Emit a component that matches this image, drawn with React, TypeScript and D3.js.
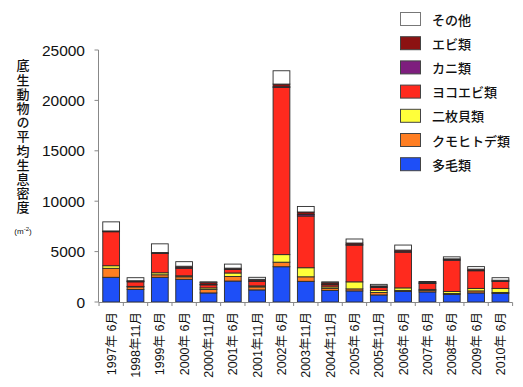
import React from "react";
import * as d3 from "d3";

const categories = ["1997年 6月","1998年11月","1999年 6月","2000年 6月","2000年11月","2001年 6月","2001年11月","2002年 6月","2003年11月","2004年11月","2005年 6月","2005年11月","2006年 6月","2007年 6月","2008年 6月","2009年 6月","2010年 6月"];

const polychaeta = [2450,1250,2450,2250,900,2080,1200,3500,2050,1150,1100,700,1050,1000,750,900,850];
const brittleStar = [890,250,250,250,350,450,300,450,450,200,200,250,100,150,100,200,100];
const bivalve = [260,50,200,100,150,350,100,750,900,150,700,200,250,100,200,250,400];
const amphipod = [3370,450,1920,750,300,350,450,16600,5130,200,3650,300,3550,600,3100,1750,700];
const crab = [20,30,30,50,50,30,50,50,150,50,30,50,30,30,30,30,30];
const shrimp = [60,80,60,150,200,100,150,270,250,150,170,100,170,100,100,130,80];
const other = [900,300,860,450,50,400,200,1320,550,100,400,150,500,50,200,250,250];

const seriesNames = ["多毛類","クモヒトデ類","二枚貝類","ヨコエビ類","カニ類","エビ類","その他"];
const seriesValues = [polychaeta, brittleStar, bivalve, amphipod, crab, shrimp, other];
const seriesColors = ["#1e4ff7","#ff7e22","#ffff3a","#ff2a1e","#7e1e7e","#8c1212","#ffffff"];
const yTicks = [0,5000,10000,15000,20000,25000];
const yLabel = "底生動物の平均生息密度";

const W = 523, H = 387;
const FONT = "'Liberation Sans', Arial, 'Noto Sans CJK JP', sans-serif";
const JFONT = "'Noto Sans CJK JP', sans-serif";

export default function App() {
  const rows = categories.map((c, i) => {
    const r: any = { cat: c };
    seriesNames.forEach((s, k) => (r[s] = seriesValues[k][i]));
    return r;
  });
  const stack = d3.stack().keys(seriesNames)(rows);
  const x = d3.scaleBand().domain(categories).range([99, 512.6]).paddingInner(0.31).paddingOuter(0.155);
  const y = d3.scaleLinear().domain([0, 25000]).range([302, 50]);
  const step = x.step();
  const axisColor = "#888";
  const legendOrder = [6,5,4,3,2,1,0];

  return (
    <svg width={W} height={H} style={{ position: "absolute", left: 0, top: 0, background: "#fff" }}>
      {/* y axis */}
      <line x1={98.5} x2={98.5} y1={50} y2={302} stroke={axisColor} strokeWidth={1} />
      {yTicks.map((t) => (
        <g key={t}>
          <line x1={94.5} x2={98.5} y1={y(t)} y2={y(t)} stroke={axisColor} />
          <text x={85} y={y(t) + 5.5} textAnchor="end" fontFamily={FONT} fontSize={15.5} fill="#111">{t}</text>
        </g>
      ))}
      {/* bars */}
      {stack.map((layer, k) => (
        <g key={k}>
          {layer.map((d, i) => (
            <rect key={i} x={x(categories[i])} y={y(d[1])} width={x.bandwidth()} height={Math.max(0, y(d[0]) - y(d[1]))}
              fill={seriesColors[k]} stroke="#2a2a2a" strokeWidth={0.9} />
          ))}
        </g>
      ))}
      {/* x axis */}
      <line x1={98.5} x2={512.6} y1={302.5} y2={302.5} stroke={axisColor} />
      {d3.range(categories.length + 1).map((i) => (
        <line key={i} x1={99 + i * step} x2={99 + i * step} y1={302.5} y2={306} stroke={axisColor} />
      ))}
      {categories.map((c) => (
        <text key={c} transform={`translate(${(x(c) as number) + x.bandwidth() / 2 + 4.5},312) rotate(-90)`}
          textAnchor="end" fontFamily={FONT} fontSize={12.5} fill="#111">{c}</text>
      ))}
      {/* y label */}
      <text x={23} y={59} style={{ writingMode: "vertical-rl" as any }} letterSpacing={1.2}
        fontFamily={JFONT} fontSize={13} fontWeight={500} fill="#111">{yLabel}</text>
      <text x={23} y={234} textAnchor="middle" fontFamily={FONT} fontSize={8} fill="#111">
        (m<tspan fontSize={6} dy={-3}>-2</tspan><tspan dy={3}>)</tspan>
      </text>
      {/* legend */}
      {legendOrder.map((k, j) => (
        <g key={k}>
          <rect x={400.5} y={12.5 + j * 24.2} width={20} height={13} fill={seriesColors[k]} stroke={k === 6 ? "#777" : "#444"} strokeWidth={1} />
          <text x={432} y={24.5 + j * 24.2} fontFamily={JFONT} fontSize={13} fontWeight={500} fill="#111">{seriesNames[k]}</text>
        </g>
      ))}
    </svg>
  );
}
